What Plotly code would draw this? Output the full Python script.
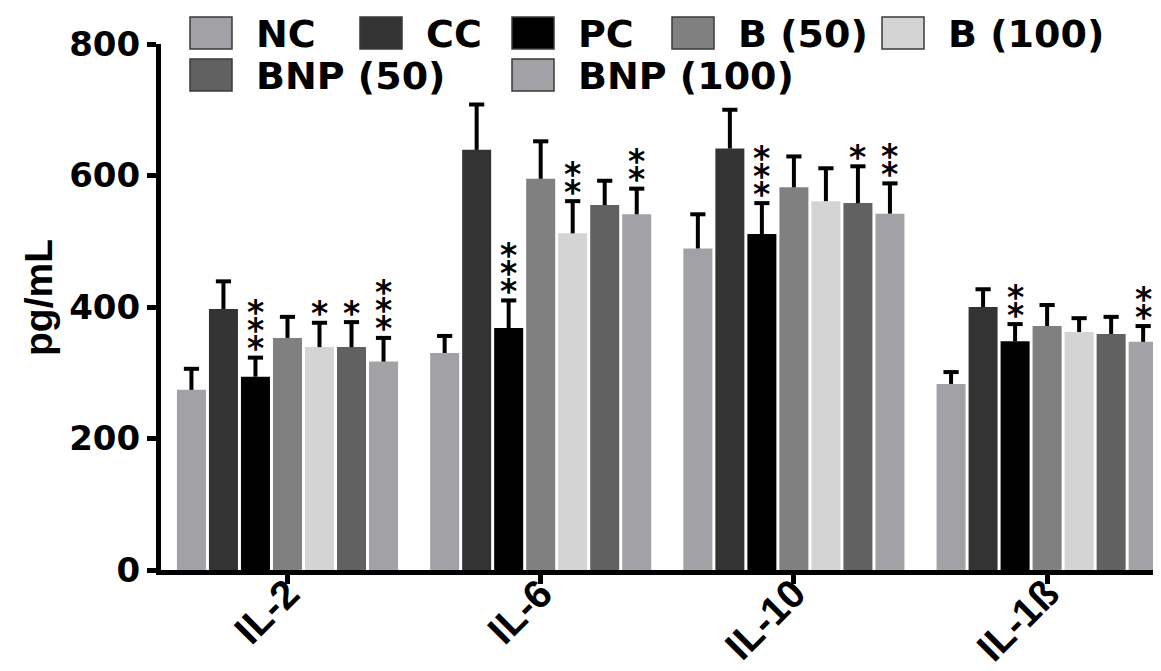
import plotly.graph_objects as go

# ---------------- data ----------------
groups = ["IL-2", "IL-6", "IL-10", "IL-1ß"]
series = ["NC", "CC", "PC", "B (50)", "B (100)", "BNP (50)", "BNP (100)"]

nc_mean = [274, 330, 489, 283]
nc_err = [32, 26, 52, 18]
cc_mean = [397, 639, 641, 400]
cc_err = [42, 69, 59, 27]
pc_mean = [294, 368, 511, 348]
pc_err = [29, 42, 47, 26]
b50_mean = [353, 595, 582, 371]
b50_err = [32, 57, 47, 32]
b100_mean = [339, 512, 561, 362]
b100_err = [37, 49, 50, 21]
bnp50_mean = [339, 555, 558, 359]
bnp50_err = [38, 37, 56, 26]
bnp100_mean = [317, 541, 542, 347]
bnp100_err = [36, 39, 46, 24]

# number of significance asterisks per group
nc_sig = [0, 0, 0, 0]
cc_sig = [0, 0, 0, 0]
pc_sig = [3, 3, 3, 2]
b50_sig = [0, 0, 0, 0]
b100_sig = [1, 2, 0, 0]
bnp50_sig = [1, 0, 1, 0]
bnp100_sig = [3, 2, 2, 2]

y_ticks = [0, 200, 400, 600, 800]
y_title = "pg/mL"

means = [nc_mean, cc_mean, pc_mean, b50_mean, b100_mean, bnp50_mean, bnp100_mean]
errs = [nc_err, cc_err, pc_err, b50_err, b100_err, bnp50_err, bnp100_err]
sigs = [nc_sig, cc_sig, pc_sig, b50_sig, b100_sig, bnp50_sig, bnp100_sig]

# ---------------- style ----------------
colors = ["#a2a1a6", "#333333", "#000000", "#808080", "#d4d4d4", "#616161", "#a2a1a6"]
OFF = 8                      # page body margin
W, H = 1161 - OFF, 671 - OFF
ML, MR, MT, MB = 161 - OFF, 0, 44 - OFF, 101
BARGAP = 0.115
GROUPGAP = 0.094
XRANGE = [-0.4995, 3.4498]
CAP = 0.03                   # half cap width (x units)

fig = go.Figure()
xs = list(range(len(groups)))
n = len(series)
slot = (1 - BARGAP) / n

for name, col, m in zip(series, colors, means):
    fig.add_bar(x=xs, y=m, name=name, marker=dict(color=col, line=dict(width=0)),
                showlegend=False)

# one-sided error bars (stem + top cap)
for k, (m, e) in enumerate(zip(means, errs)):
    ex, ey = [], []
    for g in range(len(groups)):
        xc = g + (k - (n - 1) / 2) * slot
        top = m[g] + e[g]
        ex += [xc, xc, None, xc - CAP, xc + CAP, None]
        ey += [m[g], top, None, top, top, None]
    fig.add_scatter(x=ex, y=ey, mode="lines", line=dict(color="black", width=4),
                    showlegend=False, hoverinfo="skip")

# asterisks above error bars
annotations = []
for k, (m, e, s) in enumerate(zip(means, errs, sigs)):
    for g in range(len(groups)):
        for j in range(s[g]):
            annotations.append(dict(
                x=g + (k - (n - 1) / 2) * slot, y=m[g] + e[g], xref="x", yref="y",
                text="*", showarrow=False, yanchor="middle", xanchor="center",
                yshift=9 + 18 * j,
                font=dict(family="DejaVu Sans", size=33, weight=700, color="black"),
            ))

# custom legend (large boxes)
pw = W - ML - MR
ph = H - MT - MB
def px_x(p):
    return (p - OFF - ML) / pw
def px_y(p):
    return (H - MB - (p - OFF)) / ph

legend_pos = [(190, 17), (360, 17), (512, 17), (672, 17), (882, 17), (190, 59), (512, 59)]
shapes = []
for (bx, by), name, col in zip(legend_pos, series, colors):
    shapes.append(dict(type="rect", xref="paper", yref="paper",
                       x0=px_x(bx), x1=px_x(bx + 42), y0=px_y(by + 32), y1=px_y(by),
                       fillcolor=col, line=dict(color="#3a3a3a", width=1.5)))
    annotations.append(dict(x=px_x(bx + 64), y=px_y(by + 17), xref="paper", yref="paper",
                            text=name, showarrow=False, xanchor="left", yanchor="middle",
                            font=dict(family="DejaVu Sans", size=38, weight=700, color="black")))

# y-axis title
annotations.append(dict(x=px_x(38), y=px_y(298), xref="paper", yref="paper", text=y_title,
                        textangle=-90, showarrow=False, xanchor="center", yanchor="middle",
                        font=dict(family="Liberation Sans, Arial", size=39, weight=700, color="black")))

fig.update_layout(
    width=W, height=H,
    margin=dict(l=ML, r=MR, t=MT, b=MB, pad=0, autoexpand=False),
    plot_bgcolor="white", paper_bgcolor="white",
    barmode="group", bargap=BARGAP, bargroupgap=GROUPGAP,
    annotations=annotations, shapes=shapes,
    xaxis=dict(range=XRANGE, tickmode="array", tickvals=xs, ticktext=groups, automargin=False,
               tickangle=-45, ticks="outside", ticklen=9, tickwidth=5, tickcolor="black",
               ticklabelstandoff=-30,
               showline=True, linewidth=5, linecolor="black", showgrid=False, zeroline=False,
               tickfont=dict(family="Liberation Sans, Arial", size=40, weight=700, color="black")),
    yaxis=dict(range=[0, 800], tickmode="array", tickvals=y_ticks, automargin=False,
               ticks="outside", ticklen=9, tickwidth=5, tickcolor="black",
               showline=True, linewidth=5, linecolor="black", showgrid=False, zeroline=False,
               tickfont=dict(family="DejaVu Sans", size=34, weight=700, color="black")),
    font=dict(family="Liberation Sans, Arial", color="black"),
)

fig.write_html("out.html")
